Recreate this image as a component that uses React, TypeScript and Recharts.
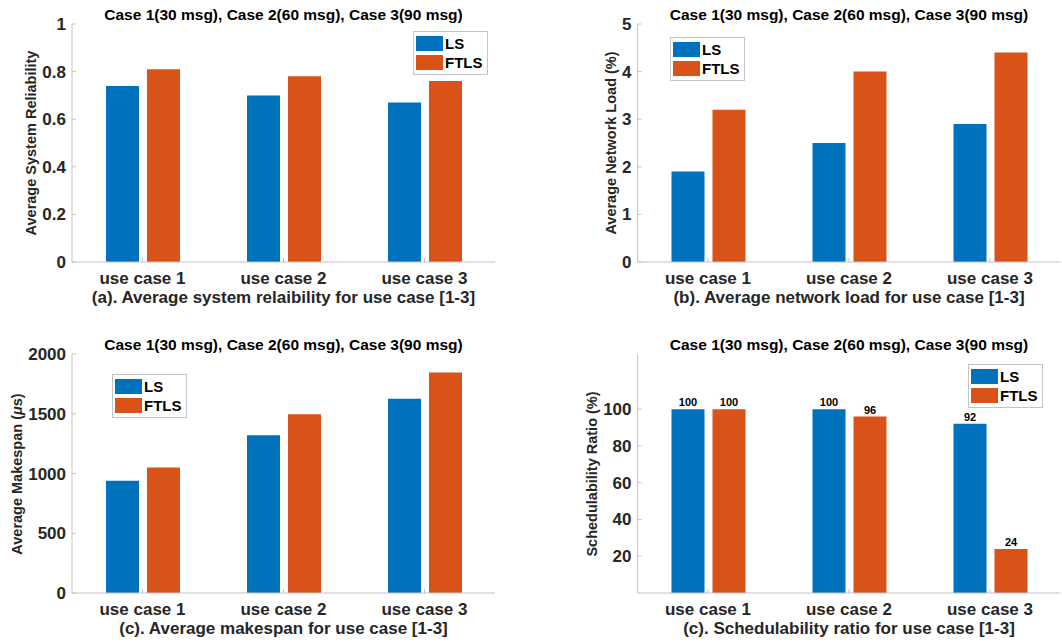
import React from "react";
import { BarChart, Bar, XAxis, YAxis, Legend, LabelList } from "recharts";

const categories = ["use case 1", "use case 2", "use case 3"];
const seriesNames = ["LS", "FTLS"];

const reliabilityLS = [0.74, 0.7, 0.67];
const reliabilityFTLS = [0.81, 0.78, 0.76];
const reliabilityTicks = [0, 0.2, 0.4, 0.6, 0.8, 1];

const loadLS = [1.9, 2.5, 2.9];
const loadFTLS = [3.2, 4.0, 4.4];
const loadTicks = [0, 1, 2, 3, 4, 5];

const makespanLS = [940, 1320, 1625];
const makespanFTLS = [1050, 1495, 1845];
const makespanTicks = [0, 500, 1000, 1500, 2000];

const schedLS = [100, 100, 92];
const schedFTLS = [100, 96, 24];
const schedTicks = [20, 40, 60, 80, 100];

const chartTitle = "Case 1(30 msg), Case 2(60 msg), Case 3(90 msg)";

const BLUE = "#0072BD";
const ORANGE = "#D95319";
const FONT = '"Liberation Sans", Arial, Helvetica, sans-serif';
const AXIS = "#c4c4c4";
const TEXT = "#262626";

const W = 531;
const H = 321;

function buildRows(ls: number[], ftls: number[]) {
  return categories.map((name, i) => ({ name, LS: ls[i], FTLS: ftls[i] }));
}

function LegendBox({ payload }: any) {
  // keep the series order (LS first), recharts sorts by name otherwise
  const items = [...(payload || [])].sort(
    (a: any, b: any) => seriesNames.indexOf(a.value) - seriesNames.indexOf(b.value)
  );
  return (
    <div
      style={{
        border: `1px solid ${AXIS}`,
        background: "#fff",
        padding: "2px 4px 2px 2px",
        fontFamily: FONT,
        fontWeight: 700,
        fontSize: 15,
        color: "#000",
      }}
    >
      {items.map((p: any) => (
        <div key={p.value} style={{ display: "flex", alignItems: "center", height: 18, marginBottom: 1 }}>
          <span style={{ width: 27, height: 15, background: p.color, display: "inline-block", marginRight: 2 }} />
          <span>{p.value}</span>
        </div>
      ))}
    </div>
  );
}

type Plot = { left: number; right: number; top: number; bottom: number };

interface PanelProps {
  x: number;
  y: number;
  ls: number[];
  ftls: number[];
  domain: [number, number];
  ticks: number[];
  yLabel: React.ReactNode;
  yLabelX: number;
  caption: string;
  plot: Plot;
  legendAt: { left: number; top: number };
  showValues?: boolean;
}

function Panel(p: PanelProps) {
  const data = buildRows(p.ls, p.ftls);
  const yAxisWidth = 60;
  const xAxisHeight = 40;
  const margin = {
    top: p.plot.top,
    right: W - p.plot.right,
    left: p.plot.left - yAxisWidth,
    bottom: H - p.plot.bottom - xAxisHeight,
  };
  const plotCx = (p.plot.left + p.plot.right) / 2;
  const plotCy = (p.plot.top + p.plot.bottom) / 2;
  const tickStyle = { fill: TEXT, fontSize: 17, fontWeight: 700, fontFamily: FONT };
  const valueStyle = { fill: "#000", fontSize: 11, fontWeight: 700, fontFamily: FONT };

  return (
    <div style={{ position: "absolute", left: p.x, top: p.y, width: W, height: H }}>
      <BarChart width={W} height={H} data={data} margin={margin} barSize={33} barGap={8}>
        <XAxis
          dataKey="name"
          height={xAxisHeight}
          tick={tickStyle}
          tickSize={-4}
          tickMargin={14}
          axisLine={{ stroke: AXIS }}
          tickLine={{ stroke: AXIS }}
        />
        <XAxis
          xAxisId="top"
          orientation="top"
          dataKey="name"
          height={0}
          tick={false}
          tickSize={-4}
          axisLine={{ stroke: AXIS }}
          tickLine={{ stroke: AXIS }}
        />
        <YAxis
          width={yAxisWidth}
          type="number"
          domain={p.domain}
          ticks={p.ticks}
          interval={0}
          tick={tickStyle}
          tickSize={-4}
          tickMargin={10}
          axisLine={{ stroke: AXIS }}
          tickLine={{ stroke: AXIS }}
        />
        <YAxis
          yAxisId="right"
          orientation="right"
          width={0}
          type="number"
          domain={p.domain}
          ticks={p.ticks}
          interval={0}
          tick={false}
          tickSize={-4}
          axisLine={{ stroke: AXIS }}
          tickLine={{ stroke: AXIS }}
        />
        <Legend
          layout="vertical"
          align="center"
          verticalAlign="middle"
          wrapperStyle={{ left: p.legendAt.left, top: p.legendAt.top, width: "auto" }}
          content={<LegendBox />}
        />
        <Bar dataKey="LS" name="LS" fill={BLUE} isAnimationActive={false}>
          {p.showValues && <LabelList dataKey="LS" position="top" offset={3} style={valueStyle} />}
        </Bar>
        <Bar dataKey="FTLS" name="FTLS" fill={ORANGE} isAnimationActive={false}>
          {p.showValues && <LabelList dataKey="FTLS" position="top" offset={3} style={valueStyle} />}
        </Bar>
      </BarChart>

      {/* title */}
      <div
        style={{
          position: "absolute",
          left: plotCx,
          top: p.plot.top - 9,
          transform: "translate(-50%, -50%)",
          whiteSpace: "nowrap",
          fontFamily: FONT,
          fontWeight: 700,
          fontSize: 15.5,
          color: "#000",
        }}
      >
        {chartTitle}
      </div>

      {/* y axis label */}
      <div
        style={{
          position: "absolute",
          left: p.yLabelX,
          top: plotCy,
          transform: "translate(-50%, -50%) rotate(-90deg)",
          whiteSpace: "nowrap",
          fontFamily: FONT,
          fontWeight: 700,
          fontSize: 14.5,
          color: TEXT,
        }}
      >
        {p.yLabel}
      </div>

      {/* caption */}
      <div
        style={{
          position: "absolute",
          left: plotCx,
          top: p.plot.bottom + 36,
          transform: "translate(-50%, -50%)",
          whiteSpace: "nowrap",
          fontFamily: FONT,
          fontWeight: 700,
          fontSize: 17,
          color: TEXT,
        }}
      >
        {p.caption}
      </div>
    </div>
  );
}

export default function App() {
  const topLeft: Plot = { left: 72, right: 495, top: 24, bottom: 262 };
  const topRight: Plot = { left: 106.5, right: 529.5, top: 24, bottom: 262 };
  const botLeft: Plot = { left: 72, right: 495, top: 33, bottom: 272 };
  const botRight: Plot = { left: 106.5, right: 529.5, top: 33, bottom: 272 };

  return (
    <div style={{ position: "absolute", left: 0, top: 0, width: 1062, height: 642, background: "#fff" }}>
      <Panel
        x={0}
        y={0}
        ls={reliabilityLS}
        ftls={reliabilityFTLS}
        domain={[0, 1]}
        ticks={reliabilityTicks}
        yLabel="Average System Reliability"
        yLabelX={31}
        caption="(a). Average system relaibility for use case [1-3]"
        plot={topLeft}
        legendAt={{ left: 413, top: 31 }}
      />
      <Panel
        x={531}
        y={0}
        ls={loadLS}
        ftls={loadFTLS}
        domain={[0, 5]}
        ticks={loadTicks}
        yLabel="Average Network Load (%)"
        yLabelX={80}
        caption="(b). Average network load for use case [1-3]"
        plot={topRight}
        legendAt={{ left: 139, top: 37 }}
      />
      <Panel
        x={0}
        y={321}
        ls={makespanLS}
        ftls={makespanFTLS}
        domain={[0, 2000]}
        ticks={makespanTicks}
        yLabel={
          <span>
            Average Makespan (<i>μ</i>s)
          </span>
        }
        yLabelX={17}
        caption="(c). Average makespan for use case [1-3]"
        plot={botLeft}
        legendAt={{ left: 112, top: 53 }}
      />
      <Panel
        x={531}
        y={321}
        ls={schedLS}
        ftls={schedFTLS}
        domain={[0, 130]}
        ticks={schedTicks}
        yLabel="Schedulability Ratio (%)"
        yLabelX={61}
        caption="(c). Schedulability ratio for use case [1-3]"
        plot={botRight}
        legendAt={{ left: 437, top: 43 }}
        showValues
      />
    </div>
  );
}
